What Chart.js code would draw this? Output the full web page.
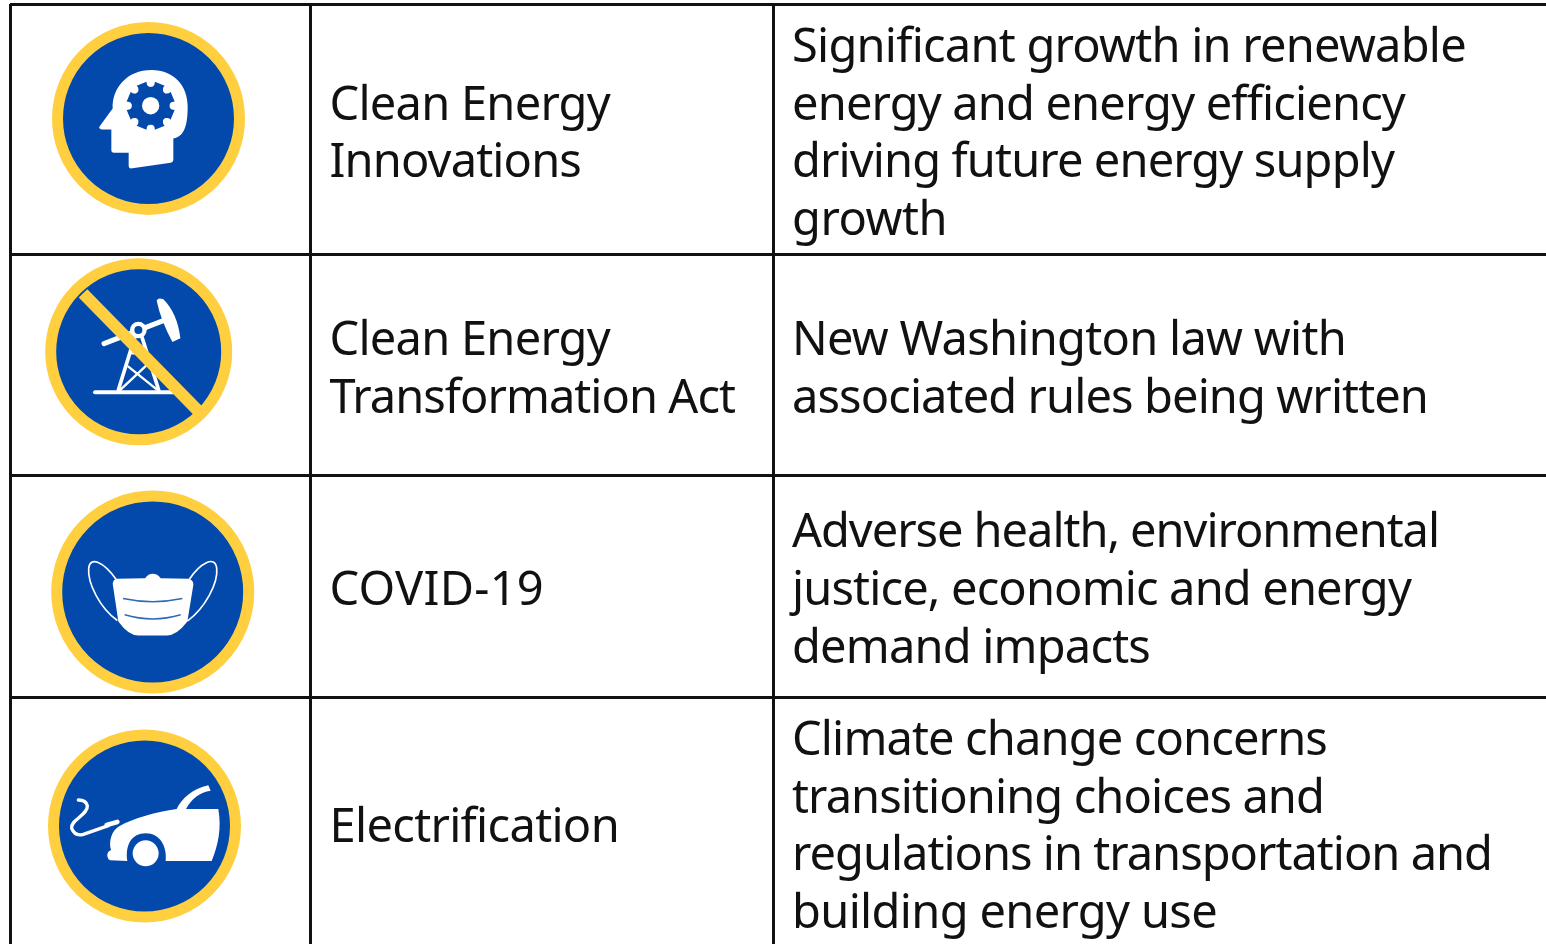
<!DOCTYPE html>
<html>
<head>
<meta charset="utf-8">
<title>Clean energy table</title>
<script src="https://cdn.jsdelivr.net/npm/chart.js@4/dist/chart.umd.min.js"></script>
<style>
  html, body { margin: 0; padding: 0; background: #fff; overflow: hidden; }
  canvas { display: block; }
</style>
</head>
<body>
<canvas id="myChart" width="1546" height="944"></canvas>
<script>
"use strict";

// table content
const topics = [
  ["Clean Energy", "Innovations"],
  ["Clean Energy", "Transformation Act"],
  ["COVID-19"],
  ["Electrification"]
];
const details = [
  ["Significant growth in renewable", "energy and energy efficiency", "driving future energy supply", "growth"],
  ["New Washington law with", "associated rules being written"],
  ["Adverse health, environmental", "justice, economic and energy", "demand impacts"],
  ["Climate change concerns", "transitioning choices and", "regulations in transportation and", "building energy use"]
];

// where each line of text ends in the picture
const topicEnds = [[610, 581], [610, 735], [544], [619]];
const detailEnds = [[1466, 1405, 1394, 947], [1346, 1428], [1439, 1411, 1150], [1327, 1324, 1492, 1217]];

// table lines and text rows, in picture pixels
const columnLines = [10, 310, 773];
const rowLines = [4, 254, 476, 697];
const textColumns = [329.5, 792];
const rowMiddles = [131.5, 367, 588, 824.5];

// icons
const iconX = [148.5, 138.7, 152.7, 144.5];
const iconY = [118.4, 351.7, 592, 826];
const iconR = [91, 88, 96, 91];

const BLUE = "#0349ab";
const GOLD = "#ffcf40";
const LINE_HEIGHT = 57.6;

function stroke(ctx, color, width, path) {
  ctx.strokeStyle = color;
  ctx.lineWidth = width;
  ctx.stroke(new Path2D(path));
}

function fill(ctx, color, path) {
  ctx.fillStyle = color;
  ctx.fill(new Path2D(path));
}

function disc(ctx, color, x, y, r) {
  ctx.fillStyle = color;
  ctx.beginPath();
  ctx.arc(x, y, r, 0, Math.PI * 2);
  ctx.fill();
}

// glyphs are sketched at 3x, each around its own icon centre
const glyphs = [
  {
    cx: 445.5, cy: 355,
    draw(ctx) {
      fill(ctx, "#fff", "M298 380 L338 325 C336 265 380 210 455 210 C520 210 563 255 563 320 C563 370 555 410 520 415 L520 480 Q520 487 512 488 L392 505 Q386 505 386 498 L386 458 L342 458 Q334 458 334 450 L334 388 L305 388 Q296 386 298 380 Z");
      ctx.fillStyle = BLUE;
      ctx.beginPath();
      for (let i = 0; i < 8; i++) {
        const a = (i * Math.PI) / 4 + Math.PI / 8;
        [[-0.3, 58], [-0.22, 73], [0.22, 73], [0.3, 58]].forEach(([d, r]) => {
          ctx.lineTo(452 + r * Math.cos(a + d), 317 + r * Math.sin(a + d));
        });
      }
      ctx.closePath();
      ctx.fill();
      for (let i = 0; i < 8; i++) {
        const a = (i * Math.PI) / 4;
        disc(ctx, "#fff", 452 + 69 * Math.cos(a), 317 + 69 * Math.sin(a), 12);
      }
      disc(ctx, "#fff", 452, 317, 26);
    }
  },
  {
    cx: 416, cy: 305,
    draw(ctx) {
      ctx.lineCap = "round";
      stroke(ctx, "#fff", 12, "M285 427 L520 427");
      stroke(ctx, "#fff", 11, "M404 262 L355 420 M426 262 L476 420");
      stroke(ctx, "#fff", 7, "M385 350 L470 418 M440 345 L360 420 M396 310 L432 310");
      stroke(ctx, "#fff", 15, "M312 281 L490 212");
      fill(ctx, "#fff", "M470 152 Q474 142 490 148 Q532 190 541 265 L517 276 Q482 210 470 152 Z");
      disc(ctx, "#fff", 415, 240, 25);
      disc(ctx, BLUE, 415, 240, 12);
      ctx.lineCap = "butt";
      stroke(ctx, GOLD, 36, "M249 130 L594 482");
    }
  },
  {
    cx: 458, cy: 336.5,
    draw(ctx) {
      stroke(ctx, "#fff", 5, "M348 298 C310 245 270 228 266 265 C262 310 300 385 352 422");
      stroke(ctx, "#fff", 5, "M568 298 C600 250 645 225 650 265 C655 310 615 385 562 424");
      fill(ctx, "#fff", "M338 312 Q340 297 352 297 L435 295 Q445 282 458 282 Q472 282 482 295 L565 297 Q580 300 580 315 L562 425 Q530 467 500 467 L415 467 Q385 467 355 425 Z");
      stroke(ctx, "#2f69bb", 4.5, "M369 356 Q458 375 547 356");
      stroke(ctx, "#2f69bb", 4.5, "M374 405 Q458 430 542 405");
    }
  },
  {
    cx: 433.5, cy: 363,
    draw(ctx) {
      fill(ctx, "#fff", "M530 312 C545 280 580 250 625 241 L632 257 C600 262 575 280 558 312 L655 312 C665 370 655 420 635 468 L497 468 C502 425 480 385 437 385 C395 385 375 420 382 468 L330 466 Q316 455 325 440 L333 435 C325 410 335 378 355 365 C400 340 470 320 530 312 Z");
      disc(ctx, "#fff", 437, 445, 39);
      ctx.lineCap = "round";
      stroke(ctx, "#fff", 14, "M320 360 L352 351");
      stroke(ctx, "#fff", 10, "M325 362 L250 388 Q225 395 215 370 C210 345 265 330 262 302 Q258 285 235 285");
      ctx.lineCap = "butt";
    }
  }
];

// draws the icon artwork on top of the bubbles
const iconGlyphs = {
  id: "iconGlyphs",
  afterDatasetsDraw(chart) {
    const { ctx, scales } = chart;
    glyphs.forEach((g, i) => {
      ctx.save();
      ctx.translate(scales.x.getPixelForValue(iconX[i]), scales.y.getPixelForValue(iconY[i]));
      ctx.scale(1 / 3, 1 / 3);
      ctx.translate(-g.cx, -g.cy);
      g.draw(ctx);
      ctx.restore();
    });
  }
};

// writes the two text columns, spacing each line to end where the picture does
const tableText = {
  id: "tableText",
  afterDraw(chart) {
    const { ctx, scales } = chart;
    const ends = [topicEnds, detailEnds];
    ctx.save();
    ctx.font = '47px "Noto Sans"';
    ctx.fillStyle = "#111";
    ctx.textBaseline = "alphabetic";
    [topics, details].forEach((column, c) => {
      const x = scales.x.getPixelForValue(textColumns[c]);
      column.forEach((lines, row) => {
        lines.forEach((line, i) => {
          const mid = rowMiddles[row] + (i - (lines.length - 1) / 2) * LINE_HEIGHT;
          const right = scales.x.getPixelForValue(ends[c][row][i]);
          ctx.letterSpacing = "0px";
          const spacing = (right - x - ctx.measureText(line).width) / line.length;
          ctx.letterSpacing = spacing + "px";
          ctx.fillText(line, x, scales.y.getPixelForValue(mid) + 17);
        });
      });
    });
    ctx.restore();
  }
};

const tableGrid = { color: "#111", lineWidth: 3, drawTicks: false };

new Chart(document.getElementById("myChart").getContext("2d"), {
  type: "bubble",
  data: {
    datasets: [{
      label: "Topics",
      data: iconX.map((x, i) => ({ x: x, y: iconY[i], r: iconR[i] })),
      backgroundColor: BLUE,
      borderColor: GOLD,
      borderWidth: 11,
      hoverBorderWidth: 11
    }]
  },
  options: {
    responsive: false,
    animation: false,
    layout: { autoPadding: false, padding: { left: 10, top: 4 } },
    plugins: { legend: { display: false }, tooltip: { enabled: false } },
    scales: {
      x: {
        type: "linear",
        min: 10,
        max: 1546,
        grid: tableGrid,
        border: { display: false },
        ticks: { display: false, autoSkip: false },
        afterBuildTicks: (axis) => { axis.ticks = columnLines.map((v) => ({ value: v })); }
      },
      y: {
        type: "linear",
        reverse: true,
        min: 4,
        max: 944,
        grid: tableGrid,
        border: { display: false },
        ticks: { display: false, autoSkip: false },
        afterBuildTicks: (axis) => { axis.ticks = rowLines.map((v) => ({ value: v })); }
      }
    }
  },
  plugins: [iconGlyphs, tableText]
});
</script>
</body>
</html>
